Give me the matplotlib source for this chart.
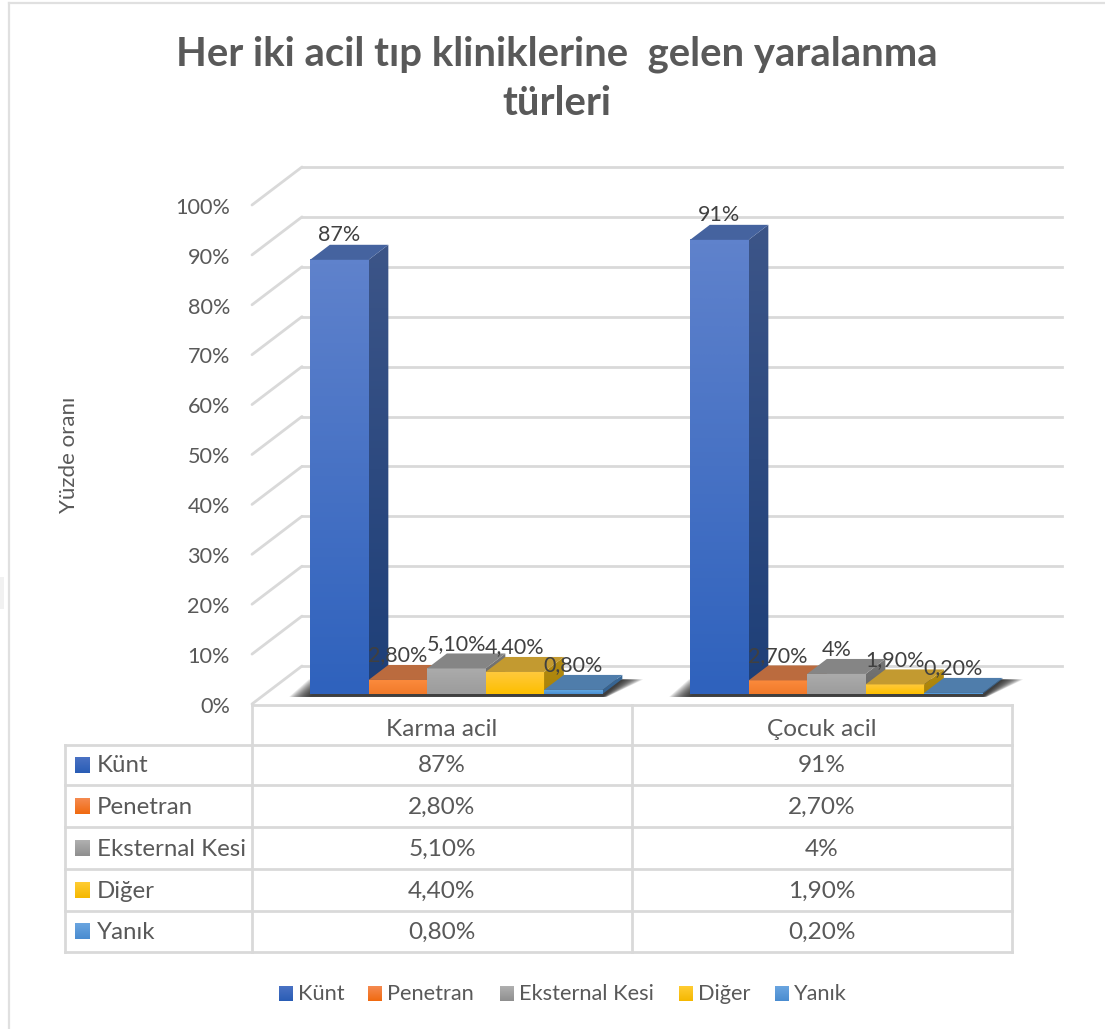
import numpy as np
import matplotlib
matplotlib.use("Agg")
import matplotlib.pyplot as plt
from matplotlib.colors import LinearSegmentedColormap
from matplotlib.patches import Polygon, Rectangle

TITLE = "Her iki acil tıp kliniklerine  gelen yaralanma\ntürleri"
YLABEL = "Yüzde oranı"
CATEGORIES = ["Karma acil", "Çocuk acil"]
SERIES = ["Künt", "Penetran", "Eksternal Kesi", "Diğer", "Yanık"]
KUNT = [87, 91]
PENETRAN = [2.8, 2.7]
EKSTERNAL = [5.1, 4.0]
DIGER = [4.4, 1.9]
YANIK = [0.8, 0.2]
KUNT_LABELS = ["87%", "91%"]
PENETRAN_LABELS = ["2,80%", "2,70%"]
EKSTERNAL_LABELS = ["5,10%", "4%"]
DIGER_LABELS = ["4,40%", "1,90%"]
YANIK_LABELS = ["0,80%", "0,20%"]
YTICKS = list(range(0, 101, 10))

VALUES = [KUNT, PENETRAN, EKSTERNAL, DIGER, YANIK]
LABELS = [KUNT_LABELS, PENETRAN_LABELS, EKSTERNAL_LABELS, DIGER_LABELS, YANIK_LABELS]

# front top, front bottom, top face, side top, side bottom
COLORS = [
    ("#5f82cc", "#2f62bd", "#45639f", "#3c5588", "#1e3f78"),
    ("#fb8a3c", "#f17a2a", "#bb6b3e", "#b05a20", "#a85418"),
    ("#ababab", "#9c9c9c", "#858585", "#777777", "#666666"),
    ("#ffc93c", "#fdbf00", "#c39a30", "#b48c12", "#a98208"),
    ("#62a6e0", "#4a90d2", "#4f7dab", "#3a6a98", "#336090"),
]
SWATCHES = [
    ("#4a72c4", "#2a5db5"),
    ("#f58a50", "#f06a10"),
    ("#b0b0b0", "#8f8f8f"),
    ("#ffcc33", "#f5b800"),
    ("#6aa5e0", "#4a8cd0"),
]

W, H = 1105, 1029
TEXT = "#595959"
GRID = "#d9d9d9"
FONT = ["Lato", "DejaVu Sans"]

# pixel positions of the plot
X0_PX, X2_PX = 252, 1012
Y0_PX, Y100_PX = 704, 205
DEPTH_DX, DEPTH_DY = 50 / 380, 38 / 4.99
BAR_W = 58.5 / 380
GROUP_PAD = 0.118
BAR_DEPTH = (0.265, 0.66)


def gradient(ax, x0, x1, y0, y1, top, bottom, clip=None, zorder=3):
    cmap = LinearSegmentedColormap.from_list("f", [top, bottom])
    im = ax.imshow(np.linspace(0, 1, 64).reshape(-1, 1), cmap=cmap, extent=(x0, x1, y0, y1),
                   aspect="auto", origin="upper", zorder=zorder, interpolation="bilinear")
    if clip is not None:
        patch = Polygon(clip, facecolor="none", edgecolor="none", transform=ax.transData)
        ax.add_patch(patch)
        im.set_clip_path(patch)
    return im


def shift(x, y, d):
    return x + d * DEPTH_DX, y + d * DEPTH_DY


def draw_bar(ax, x, value, colors):
    front_t, front_b, top, side_t, side_b = colors
    dn, df = BAR_DEPTH
    x0, y0 = shift(x, 0, dn)
    x1 = x0 + BAR_W
    y1 = y0 + value
    depth = df - dn
    dx, dy = depth * DEPTH_DX, depth * DEPTH_DY
    gradient(ax, x0, x1, y0, y1, front_t, front_b)
    side = [(x1, y0), (x1 + dx, y0 + dy), (x1 + dx, y1 + dy), (x1, y1)]
    gradient(ax, x1, x1 + dx, y0, y1 + dy, side_t, side_b, clip=side)
    ax.add_patch(Polygon([(x0, y1), (x1, y1), (x1 + dx, y1 + dy), (x0 + dx, y1 + dy)],
                         facecolor=top, edgecolor="none", zorder=3))


fig = plt.figure(figsize=(W / 100, H / 100), dpi=100)
plt.rcParams["font.family"] = FONT

# page layer in pixel units for frame, title, table and legend
page = fig.add_axes([0, 0, 1, 1], zorder=0)
page.set_xlim(0, W)
page.set_ylim(H, 0)
page.axis("off")

# data layer: x in categories, y in percent
ax = fig.add_axes([0, 0, 1, 1], zorder=1)
ax.patch.set_alpha(0)
px_per_x = (X2_PX - X0_PX) / 2
px_per_y = (Y0_PX - Y100_PX) / 100
ax.set_xlim(-X0_PX / px_per_x, (W - X0_PX) / px_per_x)
ax.set_ylim(-(H - Y0_PX) / px_per_y, Y0_PX / px_per_y)
ax.axis("off")

# frame
page.plot([8.5, 8.5], [3, H], color="#e0e0e0", lw=1.6)
page.plot([8.5, W], [3, 3], color="#e0e0e0", lw=1.6)
page.add_patch(Rectangle((0, 577), 4, 32, facecolor="#f1f1f1", edgecolor="none"))

page.text(557, 79, TITLE, ha="center", va="center", fontsize=28.8, fontweight="bold",
          color=TEXT, linespacing=1.4)
page.text(69, 455, YLABEL, rotation=90, ha="center", va="center", fontsize=16, color=TEXT)

# walls and grid lines
for tick in YTICKS:
    bx, by = shift(0, tick, 1)
    ax.plot([0, bx], [tick, by], color=GRID, lw=2, zorder=1, solid_capstyle="round")
    ex, _ = shift(2, tick, 1)
    ax.plot([bx, ex], [by, by], color=GRID, lw=2, zorder=1)
    ax.text(-0.058, tick - 0.55, f"{tick}%", ha="right", va="center", fontsize=15.6, color=TEXT)

# bars
for c in range(len(CATEGORIES)):
    sx = c + GROUP_PAD
    sx0, sy0 = shift(sx, 0, BAR_DEPTH[0])
    sw = BAR_W * 5
    d = BAR_DEPTH[1] - BAR_DEPTH[0]
    # soft floor shadow behind each group, built up from thin layers
    for grow in np.linspace(0.055, 0.002, 16):
        ax.add_patch(Polygon(
            [(sx0 - grow, sy0 - 0.6), (sx0 + sw + grow * 0.2, sy0 - 0.6),
             (sx0 + sw + d * DEPTH_DX + grow, sy0 + d * DEPTH_DY - 0.1),
             (sx0 + d * DEPTH_DX - grow, sy0 + d * DEPTH_DY - 0.1)],
            facecolor="#1a1a1a", edgecolor="none", alpha=0.1, zorder=2))
    for i in range(len(SERIES)):
        draw_bar(ax, sx + i * BAR_W, VALUES[i][c], COLORS[i])
    for i in range(len(SERIES)):
        x0, y1 = shift(sx + i * BAR_W, VALUES[i][c], BAR_DEPTH[0])
        ax.text(x0 + BAR_W / 2, y1 + 4.9, LABELS[i][c], ha="center", va="center",
                fontsize=15.5, color="#404040", zorder=5)

# table
ROWS_PX = [745, 785, 827, 869, 911, 952]
CELLS_PX = [252, 632, 1012]
page.plot([X0_PX, 1012], [705, 705], color=GRID, lw=2)
for y in ROWS_PX:
    page.plot([65, 1012], [y, y], color=GRID, lw=2)
page.plot([65, 65], [745, 952], color=GRID, lw=2)
for x in CELLS_PX:
    page.plot([x, x], [705, 952], color=GRID, lw=2)
for c, name in enumerate(CATEGORIES):
    cx = (CELLS_PX[c] + CELLS_PX[c + 1]) / 2
    page.text(cx, 730, name, ha="center", va="center", fontsize=17.6, color=TEXT)
    for i in range(len(SERIES)):
        cy = (ROWS_PX[i] + ROWS_PX[i + 1]) / 2
        page.text(cx, cy + 1, LABELS[i][c], ha="center", va="center", fontsize=17.6, color=TEXT)
for i, name in enumerate(SERIES):
    cy = (ROWS_PX[i] + ROWS_PX[i + 1]) / 2
    gradient(page, 75, 90, cy - 8, cy + 8, SWATCHES[i][1], SWATCHES[i][0], zorder=2)
    page.text(97, cy + 1, name, ha="left", va="center", fontsize=17.3, color=TEXT)
page.set_xlim(0, W)
page.set_ylim(H, 0)

# legend
LEG_X = [279, 368, 500, 679, 775]
for i, name in enumerate(SERIES):
    gradient(page, LEG_X[i], LEG_X[i] + 14, 986, 1001, SWATCHES[i][1], SWATCHES[i][0], zorder=2)
    page.text(LEG_X[i] + 19, 994, name, ha="left", va="center", fontsize=15.7, color=TEXT)
page.set_xlim(0, W)
page.set_ylim(H, 0)

fig.savefig("out.png", dpi=100)
